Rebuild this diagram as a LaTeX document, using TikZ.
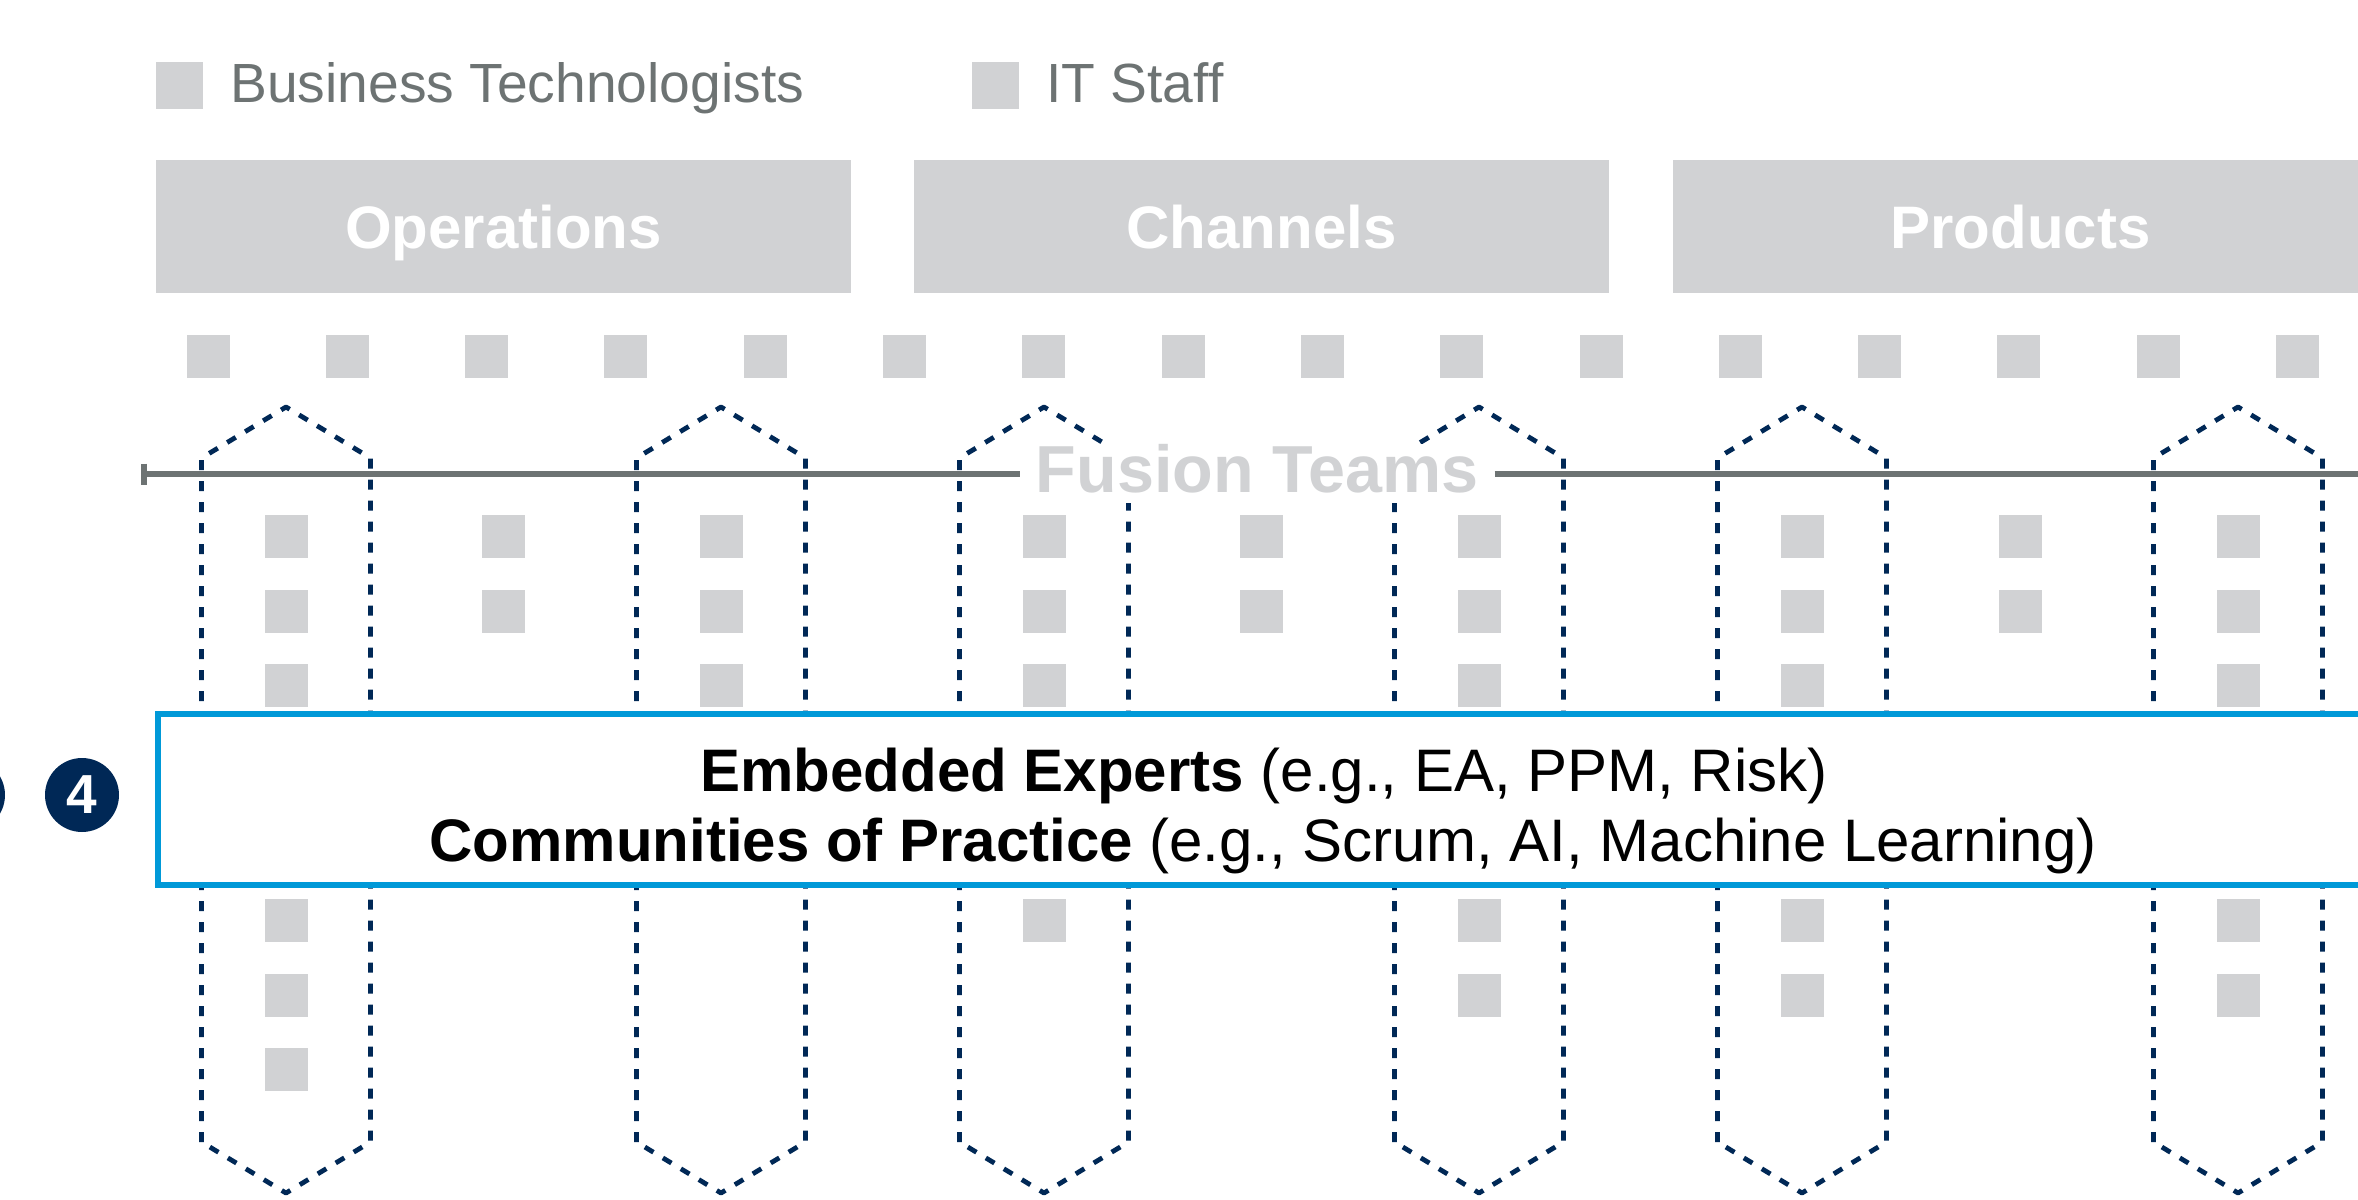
\documentclass[tikz,border=0pt]{standalone}
\usepackage{fontspec}
\setmainfont{Liberation Sans}

\definecolor{boxgray}{HTML}{D1D2D4}
\definecolor{labelgray}{HTML}{6D7373}
\definecolor{navy}{HTML}{002856}
\definecolor{frameblue}{HTML}{0099D8}

\tikzset{
  member/.style={fill=boxgray, minimum size=21.5pt, inner sep=0pt, outer sep=0pt},
  keybox/.style={fill=boxgray, minimum size=23.5pt, inner sep=0pt},
  keytext/.style={anchor=base west, inner sep=0pt, text=labelgray,
    font=\fontsize{27.6pt}{32pt}\selectfont},
  domainbox/.style={fill=boxgray, minimum width=347.5pt, minimum height=66.5pt,
    inner sep=0pt, text=white, text height=21.5pt, text depth=0pt,
    font=\bfseries\fontsize{30pt}{36pt}\selectfont},
  teamline/.style={navy, line width=2.4pt, dash pattern=on 5pt off 5.5pt,
    line join=round},
  axisline/.style={labelgray, line width=2.6pt},
  expertframe/.style={draw=frameblue, line width=3pt, fill=white,
    minimum width=1121.25pt, minimum height=85.75pt, inner sep=0pt},
  experttext/.style={anchor=base, inner sep=0pt,
    font=\fontsize{30pt}{36pt}\selectfont},
  stepdot/.style={circle, fill=navy, minimum size=37pt, inner sep=0pt,
    text=white, font=\bfseries\fontsize{27.5pt}{30pt}\selectfont},
  teamlabel/.style={fill=white, anchor=base, inner xsep=8pt, inner ysep=0pt,
    text depth=5.5pt, text=boxgray,
    font=\bfseries\fontsize{33.25pt}{40pt}\selectfont}
}

\begin{document}
\begin{tikzpicture}[x=0.5pt, y=-0.5pt]
  \useasboundingbox (0,0) rectangle (2358,1200);
  \clip (0,0) rectangle (2358,1200);

  % dashed team outlines (elongated hexagons)
  \foreach \x in {286,721,1044,1479,1802,2238} {
    \draw[teamline] ({\x-84.5},1142) -- ({\x-84.5},458) -- (\x,407)
      -- ({\x+84.5},458) -- ({\x+84.5},1142) -- (\x,1193) -- cycle;
  }

  % members stacked in each column (rows 1-3 above, 4-6 below the frame)
  \foreach \c/\x/\rows in {A/286/{1,2,3,4,5,6}, B/503.5/{1,2}, C/721/{1,2,3},
      D/1044/{1,2,3,4}, E/1261.5/{1,2}, F/1479/{1,2,3,4,5},
      G/1802/{1,2,3,4,5}, H/2020/{1,2}, I/2238/{1,2,3,4,5}} {
    \foreach \r in \rows {
      \pgfmathsetmacro\yy{\r<4 ? 536.5+74.5*(\r-1) : 920.5+74.5*(\r-4)}
      \node[member] (m\c\r) at (\x,\yy) {};
    }
  }

  % row of members below the domain headers
  \foreach \i in {0,...,15} {
    \pgfmathsetmacro\xx{208+139.3*\i}
    \node[member] (top\i) at (\xx,356.5) {};
  }

  % frame for experts and communities
  \node[expertframe] (experts) at (1278.75,799.25) {};
  \node[experttext] (expline1) at (1264,791)
    {\textbf{Embedded Experts} (e.g., EA, PPM, Risk)};
  \node[experttext] (expline2) at (1263,861)
    {\textbf{Communities of Practice} (e.g., Scrum, AI, Machine Learning)};

  % fusion teams axis with its label
  \node[teamlabel] (fusion) at (1257,492) {Fusion Teams};
  \coordinate (axisstart) at (144,474);
  \coordinate (axisend) at (2370,474);
  \draw[axisline] (axisstart) -- (fusion.west |- axisstart);
  \draw[axisline] (fusion.east |- axisend) -- (axisend);
  \draw[axisline] (axisstart) ++(0,-10.5) -- ++(0,21);

  % domain headers
  \node[domainbox] (operations) at (503.5,226.5) {Operations};
  \node[domainbox] (channels) at (1261.5,226.5) {Channels};
  \node[domainbox] (products) at (2020.5,226.5) {Products};

  % legend
  \node[keybox] (keybt) at (179.5,85.5) {};
  \node[keytext] (keybttext) at (230,102) {Business Technologists};
  \node[keybox] (keyit) at (995,85.5) {};
  \node[keytext] (keyittext) at (1046,102) {IT Staff};

  % step markers
  \node[stepdot] (step3) at (-32,795) {};
  \node[stepdot] (step4) at (82,795) {4};
\end{tikzpicture}
\end{document}
